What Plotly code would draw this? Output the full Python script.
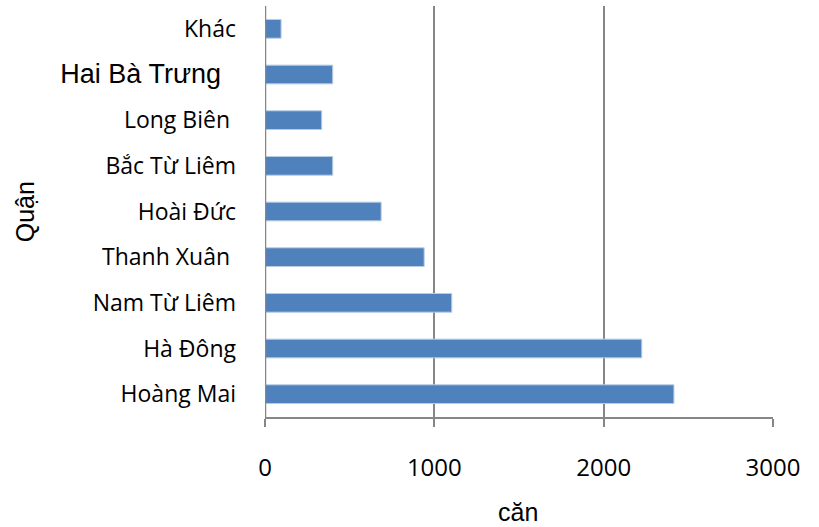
import plotly.graph_objects as go

# Number of units (căn) per district, listed bottom to top
districts = ["Hoàng Mai", "Hà Đông", "Nam Từ Liêm", "Thanh Xuân ", "Hoài Đức",
             "Bắc Từ Liêm", "Long Biên ", "Hai Bà Trưng ", "Khác"]
units = [2415, 2225, 1103, 940, 686, 400, 335, 400, 95]

tick_labels = [
    "<span style='font-family:Liberation Sans, Arial; font-size:27px'>"
    + d.strip() + "&nbsp;&nbsp;</span>"
    if d.startswith("Hai") else d
    for d in districts
]

BAR = "#4F81BD"
GRID = "#868686"
FONT = "Open Sans, Carlito, Calibri, sans-serif"

fig = go.Figure(
    go.Bar(
        x=units,
        y=districts,
        orientation="h",
        width=0.41,
        marker=dict(color=BAR, line=dict(color="#B9CDE5", width=1)),
    )
)

L, R, T, B = 265, 45.5, 6, 110
W, H = 819, 527

fig.update_layout(
    width=W,
    height=H,
    margin=dict(l=L, r=R, t=T, b=B, pad=0),
    paper_bgcolor="white",
    plot_bgcolor="white",
    showlegend=False,
    font=dict(family=FONT, size=23, color="black"),
    bargap=0.59,
)

fig.update_xaxes(
    range=[0, 3000],
    tickvals=[0, 1000, 2000, 3000],
    ticktext=["0", "1000", "2000", "3000"],
    showgrid=True,
    gridcolor=GRID,
    gridwidth=2,
    zeroline=False,
    showline=True,
    linecolor=GRID,
    linewidth=2,
    ticks="outside",
    ticklen=8,
    tickwidth=2,
    tickcolor=GRID,
    ticklabelstandoff=20,
    tickfont=dict(family=FONT, size=24, color="black"),
)

fig.update_yaxes(
    categoryorder="array",
    categoryarray=districts,
    tickvals=districts,
    ticktext=tick_labels,
    showgrid=False,
    zeroline=False,
    showline=False,
    ticks="",
    ticklabelstandoff=28,
    tickfont=dict(family=FONT, size=23, color="black"),
)

# Vertical axis line at x = 0
fig.add_shape(type="line", xref="x", yref="paper", x0=0, x1=0, y0=0, y1=1,
              line=dict(color=GRID, width=2.5))

plot_w = W - L - R
plot_h = H - T - B

# Axis titles
fig.add_annotation(
    text="Quận", textangle=-90, showarrow=False,
    xref="paper", yref="paper",
    x=(25 - L) / plot_w, y=(H - B - 212) / plot_h,
    xanchor="center", yanchor="middle",
    font=dict(family="Liberation Sans, Arial", size=25, color="black"),
)
fig.add_annotation(
    text="căn", showarrow=False,
    xref="paper", yref="paper",
    x=(518 - L) / plot_w, y=(H - B - 512) / plot_h,
    xanchor="center", yanchor="middle",
    font=dict(family="Liberation Sans, Arial", size=25, color="black"),
)

fig.write_html("out.html")
